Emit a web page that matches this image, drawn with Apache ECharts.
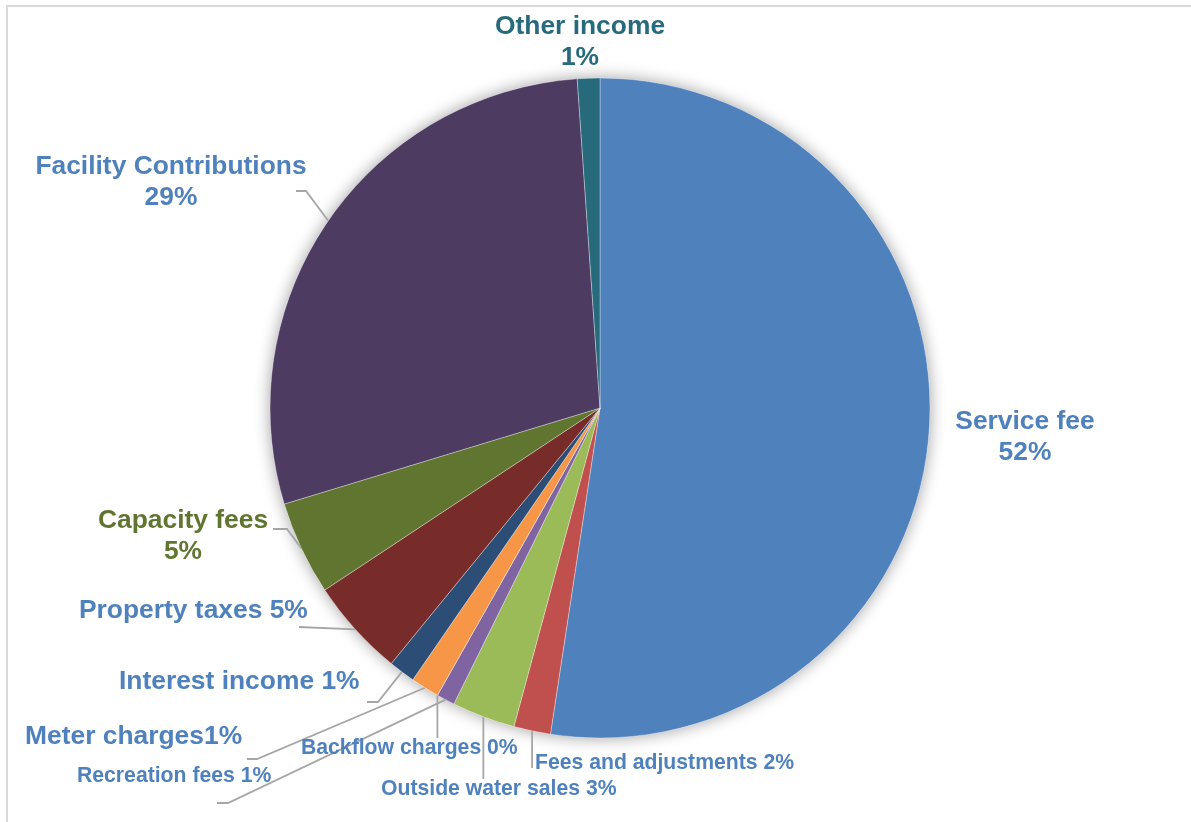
<!DOCTYPE html>
<html>
<head>
<meta charset="utf-8">
<title>Revenue sources</title>
<script src="https://cdn.jsdelivr.net/npm/echarts@6/dist/echarts.min.js"></script>
<style>
  html, body { margin: 0; padding: 0; background: #ffffff; }
  #chart { width: 1191px; height: 822px; }
</style>
</head>
<body>
<div id="chart"></div>
<script>
// Revenue categories, clockwise from 12 o'clock
const categories = [
  'Service fee', 'Fees and adjustments', 'Outside water sales', 'Recreation fees',
  'Backflow charges', 'Meter charges', 'Interest income', 'Property taxes',
  'Capacity fees', 'Facility Contributions', 'Other income'
];
// Share of total revenue (percent)
const shares = [52.4, 1.8, 3.1, 0.9, 0, 1.4, 1.3, 4.8, 4.6, 28.6, 1.1];
// Slice fills
const sliceColors = [
  '#4F81BD', '#C0504D', '#9BBB59', '#8064A2', '#4BACC6', '#F79646',
  '#2C4D75', '#772C2A', '#5F7530', '#4D3B62', '#276A7C'
];
// How name and percentage are joined in each label
const labelJoins = ['\n', ' ', ' ', ' ', ' ', '', ' ', ' ', '\n', '\n', '\n'];

// Label placement and leader-line routing
const BIG = 26.4, SMALL = 21.2;
const labelPlaces = [
  { x: 1025, y: 437, align: 'center', size: BIG, color: '#4F81BD', leader: null },
  { x: 535, y: 763, align: 'left', size: SMALL, color: '#4F81BD', leader: { dropTo: 768 } },
  { x: 381, y: 789, align: 'left', size: SMALL, color: '#4F81BD', leader: { dropTo: 779 } },
  { x: 77, y: 776, align: 'left', size: SMALL, color: '#4F81BD', leader: { via: [[228, 803], [217, 803]] } },
  { x: 301, y: 748, align: 'left', size: SMALL, color: '#4F81BD', leader: { dropTo: 738 } },
  { x: 25, y: 737, align: 'left', size: BIG, color: '#4F81BD', leader: { via: [[257, 759], [247, 759]] } },
  { x: 119, y: 682, align: 'left', size: BIG, color: '#4F81BD', leader: { via: [[378, 702], [367, 702]] } },
  { x: 79, y: 611, align: 'left', size: BIG, color: '#4F81BD', leader: { via: [[299, 627]] } },
  { x: 183, y: 536, align: 'center', size: BIG, color: '#5F7530', leader: { via: [[287, 529], [273, 529]] } },
  { x: 171, y: 182, align: 'center', size: BIG, color: '#4F81BD', leader: { via: [[306, 191], [296, 191]] } },
  { x: 580, y: 42, align: 'center', size: BIG, color: '#276A7C', leader: null }
];

const pieCenter = [600, 408];
const pieRadius = 330;

const pieData = categories.map((name, i) => ({
  name: name,
  value: shares[i],
  itemStyle: { color: sliceColors[i] },
  label: {
    fontSize: labelPlaces[i].size,
    lineHeight: Math.round(labelPlaces[i].size * 1.18),
    color: labelPlaces[i].color
  },
  labelLine: { show: !!labelPlaces[i].leader }
}));

const chart = echarts.init(document.getElementById('chart'), null, { renderer: 'canvas' });

chart.setOption({
  backgroundColor: '#ffffff',
  animation: false,
  graphic: [{
    type: 'polyline',
    shape: { points: [[7, 822], [7, 6], [1191, 6]] },
    style: { stroke: '#D9D9D9', lineWidth: 2, fill: null },
    silent: true
  }],
  series: [
    {
      // soft drop shadow behind the whole pie
      type: 'pie',
      center: pieCenter,
      radius: pieRadius,
      silent: true,
      z: 1,
      label: { show: false },
      labelLine: { show: false },
      itemStyle: {
        color: '#ffffff',
        shadowBlur: 16,
        shadowColor: 'rgba(0,0,0,0.38)'
      },
      data: [{ value: 1 }]
    },
    {
      type: 'pie',
      center: pieCenter,
      radius: pieRadius,
      startAngle: 90,
      clockwise: true,
      avoidLabelOverlap: false,
      z: 2,
      itemStyle: { borderColor: 'rgba(255,255,255,0.55)', borderWidth: 0.6 },
      emphasis: { disabled: true },
      label: {
        show: true,
        position: 'outside',
        fontFamily: '"Liberation Sans", Arial, sans-serif',
        fontWeight: 'bold',
        formatter: (p) => p.name + labelJoins[p.dataIndex] + Math.round(p.percent) + '%'
      },
      labelLine: {
        show: true,
        lineStyle: { color: '#A6A6A6', width: 1.8 }
      },
      labelLayout: (params) => {
        const place = labelPlaces[params.dataIndex];
        const out = { x: place.x, y: place.y, align: place.align, verticalAlign: 'middle' };
        if (place.leader && params.labelLinePoints) {
          const start = params.labelLinePoints[0];
          if (place.leader.dropTo !== undefined) {
            out.labelLinePoints = [start, [start[0], place.leader.dropTo]];
          } else {
            out.labelLinePoints = [start].concat(place.leader.via);
          }
        }
        return out;
      },
      data: pieData
    }
  ]
});
</script>
</body>
</html>
